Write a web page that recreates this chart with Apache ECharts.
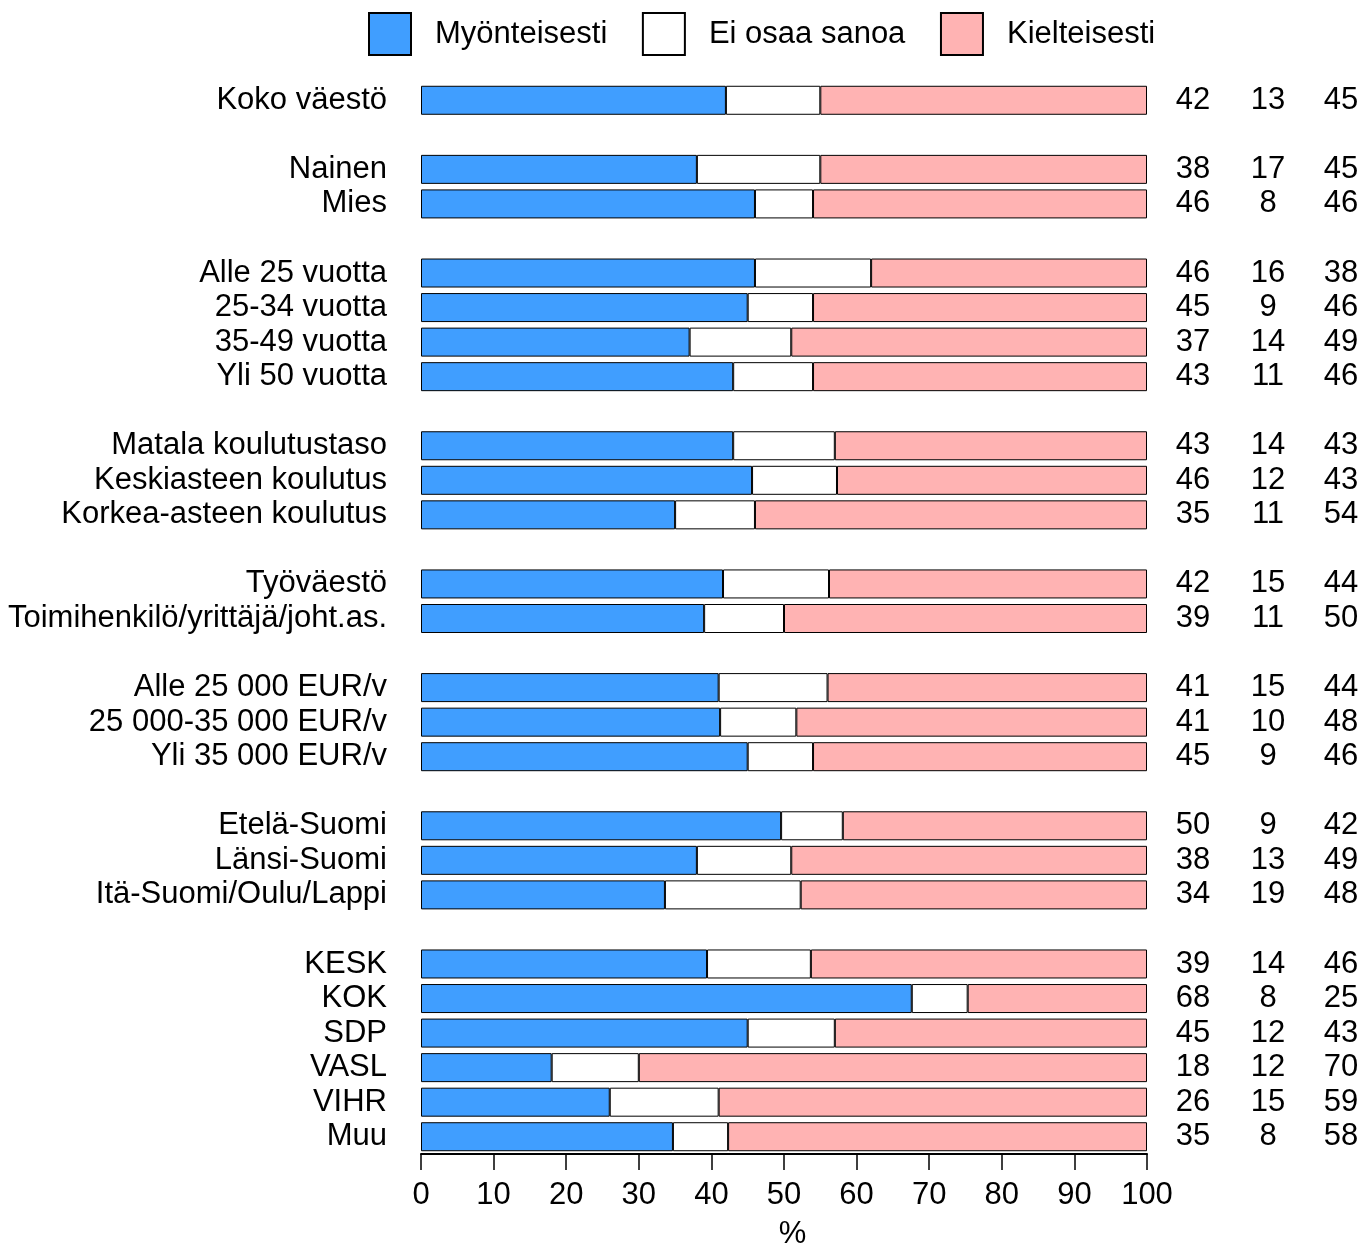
<!DOCTYPE html>
<html>
<head>
<meta charset="utf-8">
<script src="https://cdn.jsdelivr.net/npm/echarts@6/dist/echarts.min.js"></script>
<style>
html,body{margin:0;padding:0;background:#fff;overflow:hidden;}
#chart{width:1363px;height:1255px;}
</style>
</head>
<body>
<div id="chart"></div>
<script>
// Row categories ('' = spacer row between groups)
var categories = [
  'Koko väestö', '',
  'Nainen', 'Mies', '',
  'Alle 25 vuotta', '25-34 vuotta', '35-49 vuotta', 'Yli 50 vuotta', '',
  'Matala koulutustaso', 'Keskiasteen koulutus', 'Korkea-asteen koulutus', '',
  'Työväestö', 'Toimihenkilö/yrittäjä/joht.as.', '',
  'Alle 25 000 EUR/v', '25 000-35 000 EUR/v', 'Yli 35 000 EUR/v', '',
  'Etelä-Suomi', 'Länsi-Suomi', 'Itä-Suomi/Oulu/Lappi', '',
  'KESK', 'KOK', 'SDP', 'VASL', 'VIHR', 'Muu'
];
// Bar segment values (%)
var positive = [42, null, 38, 46, null, 46, 45, 37, 43, null, 43, 45.6, 35, null, 41.6, 39, null, 41, 41.2, 45, null, 49.6, 38, 33.6, null, 39.4, 67.6, 45, 18, 26, 34.7];
var neutral  = [13, null, 17, 8, null, 16, 9, 14, 11, null, 14, 11.7, 11, null, 14.6, 11, null, 15, 10.5, 9, null, 8.5, 13, 18.7, null, 14.3, 7.7, 12, 12, 15, 7.6];
var negative = [45, null, 45, 46, null, 38, 46, 49, 46, null, 43, 42.7, 54, null, 43.8, 50, null, 44, 48.3, 46, null, 41.9, 49, 47.7, null, 46.3, 24.7, 43, 70, 59, 57.7];
// Printed numbers on the right
var positiveLabels = [42, null, 38, 46, null, 46, 45, 37, 43, null, 43, 46, 35, null, 42, 39, null, 41, 41, 45, null, 50, 38, 34, null, 39, 68, 45, 18, 26, 35];
var neutralLabels  = [13, null, 17, 8, null, 16, 9, 14, 11, null, 14, 12, 11, null, 15, 11, null, 15, 10, 9, null, 9, 13, 19, null, 14, 8, 12, 12, 15, 8];
var negativeLabels = [45, null, 45, 46, null, 38, 46, 49, 46, null, 43, 43, 54, null, 44, 50, null, 44, 48, 46, null, 42, 49, 48, null, 46, 25, 43, 70, 59, 58];
var seriesNames = ['Myönteisesti', 'Ei osaa sanoa', 'Kielteisesti'];
var xTicks = [0, 10, 20, 30, 40, 50, 60, 70, 80, 90, 100];

var FONT = 'Liberation Sans, Arial, sans-serif';
var FS = 31;
var colors = ['#409eff', '#ffffff', '#ffb3b3'];

function labelAxis(arr, margin) {
  return {
    type: 'category', data: categories, inverse: true, position: 'right',
    axisLine: {show: false}, axisTick: {show: false}, splitLine: {show: false},
    axisLabel: {
      interval: 0, margin: margin, align: 'center', color: '#000',
      fontFamily: FONT, fontSize: FS, padding: [8, 0, 0, 0],
      formatter: function (v, i) { return arr[i] == null ? '' : String(arr[i]); }
    }
  };
}

var chart = echarts.init(document.getElementById('chart'), null, {renderer: 'canvas'});
var option = {
  backgroundColor: '#fff',
  animation: false,
  legend: {
    left: 363, top: 7, itemWidth: 42, itemHeight: 42, itemGap: 34.6,
    icon: 'rect',
    data: seriesNames,
    textStyle: {fontFamily: FONT, fontSize: FS, color: '#000', padding: [0, 0, 0, 19]}
  },
  grid: {left: 421, right: 216, top: 83, bottom: 94, containLabel: false},
  xAxis: {
    type: 'value', min: 0, max: 100, interval: 10,
    name: '%', nameLocation: 'middle', nameGap: 65,
    nameTextStyle: {fontFamily: FONT, fontSize: FS, color: '#000', padding: [0, 0, 0, 17]},
    axisLine: {show: true, lineStyle: {color: '#000', width: 2}},
    axisTick: {show: true, length: 16, lineStyle: {color: '#000', width: 1.5}},
    splitLine: {show: false},
    axisLabel: {
      margin: 26, color: '#000', fontFamily: FONT, fontSize: FS,
      formatter: function (v) { return xTicks.indexOf(v) >= 0 ? String(v) : ''; }
    }
  },
  yAxis: [
    {
      type: 'category', data: categories, inverse: true,
      axisLine: {show: false}, axisTick: {show: false}, splitLine: {show: false},
      axisLabel: {interval: 0, margin: 34, color: '#000', fontFamily: FONT, fontSize: FS}
    },
    labelAxis(positiveLabels, 46),
    labelAxis(neutralLabels, 121),
    labelAxis(negativeLabels, 194)
  ],
  series: [positive, neutral, negative].map(function (d, k) {
    return {
      name: seriesNames[k], type: 'bar', stack: 'total', yAxisIndex: 0,
      data: d, barWidth: 29,
      itemStyle: {color: colors[k], borderColor: '#000', borderWidth: 1}
    };
  })
};
chart.setOption(option);
</script>
</body>
</html>
